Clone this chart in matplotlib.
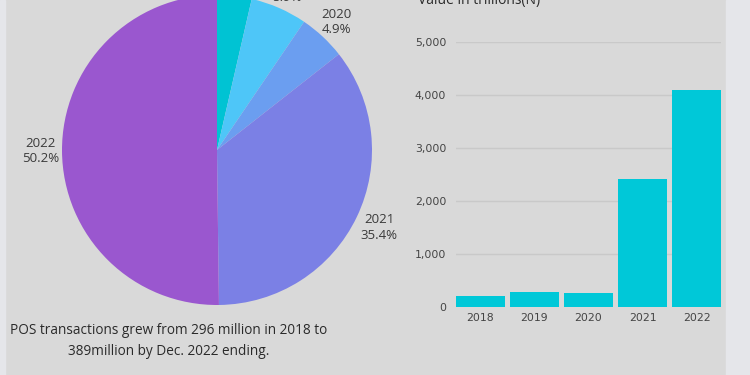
import matplotlib
matplotlib.use("Agg")
import matplotlib.pyplot as plt
from matplotlib.patches import Rectangle
import numpy as np

plt.rcParams["font.family"] = ["Open Sans", "DejaVu Sans"]

# pie: share of POS transactions by year
years = ["2018", "2019", "2020", "2021", "2022"]
pie_share = [3.6, 5.9, 4.9, 35.4, 50.2]
pie_colors = ["#00c3d3", "#4ec6f8", "#6b9ef0", "#7b80e5", "#9a57cf"]

# bars: value in trillions
bar_values = [210, 290, 260, 2420, 4090]
bar_ticks = [0, 1000, 2000, 3000, 4000, 5000]

BG, STRIP, INK, GRID, CYAN = "#d9d9d9", "#e5e6ea", "#3a3a3a", "#c9c9c9", "#00c8d8"

fig = plt.figure(figsize=(7.5, 3.75), dpi=100, facecolor=BG)
W, H = 750, 375
fig.patches.append(Rectangle((726 / W, 0), 24 / W, 1, transform=fig.transFigure,
                             color=STRIP, zorder=0))
fig.patches.append(Rectangle((0, 0), 5 / W, 1, transform=fig.transFigure,
                             color=STRIP, zorder=0))

# ---- pie ----
ax = fig.add_axes([62 / W, (H - 305) / H, 310 / W, 310 / H])
ax.set_facecolor("none")
wedges, _ = ax.pie(pie_share, colors=pie_colors, startangle=90, counterclock=False,
                   radius=1, wedgeprops=dict(linewidth=0))
ax.set_xlim(-1, 1); ax.set_ylim(-1, 1); ax.set_aspect("equal"); ax.axis("off")
dists = [1.13, 1.13, 1.13, 1.16, 1.14]
for w, yr, s, d in zip(wedges, years, pie_share, dists):
    mid = np.deg2rad((w.theta1 + w.theta2) / 2)
    ax.text(d * np.cos(mid), d * np.sin(mid), f"{yr}\n{s}%", ha="center", va="center",
            fontsize=9.5, color=INK, linespacing=1.25, clip_on=False)

fig.text(169 / W, 1 - 341 / H, "POS transactions grew from 296 million in 2018 to\n"
         "389million by Dec. 2022 ending.", ha="center", va="center",
         fontsize=9.8, color="#2a2a2a", linespacing=1.55)

# ---- bars ----
bx = fig.add_axes([456 / W, (H - 307) / H, 265 / W, 265 / H])
bx.set_facecolor("none")
x = np.arange(len(years))
bx.bar(x, bar_values, width=0.9, color=CYAN, zorder=3)
bx.set_xlim(-0.45, 4.45); bx.set_ylim(0, 5000)
bx.set_yticks(bar_ticks)
bx.set_yticklabels([f"{v:,}" for v in bar_ticks], family="DejaVu Sans")
bx.set_xticks(x); bx.set_xticklabels(years, family="DejaVu Sans")
for v in bar_ticks[1:]:
    bx.axhline(v, color=GRID, lw=1, zorder=1)
for s in bx.spines.values():
    s.set_visible(False)
bx.tick_params(length=0, labelsize=7.8, labelcolor="#444444")
bx.tick_params(axis="y", pad=7)
bx.tick_params(axis="x", pad=4)
fig.text(418 / W, 1 - 4 / H, "Value in trillions(N)", ha="left", va="baseline",
         fontsize=10, color="#2a2a2a")

fig.savefig("out.png", dpi=100, facecolor=BG)
